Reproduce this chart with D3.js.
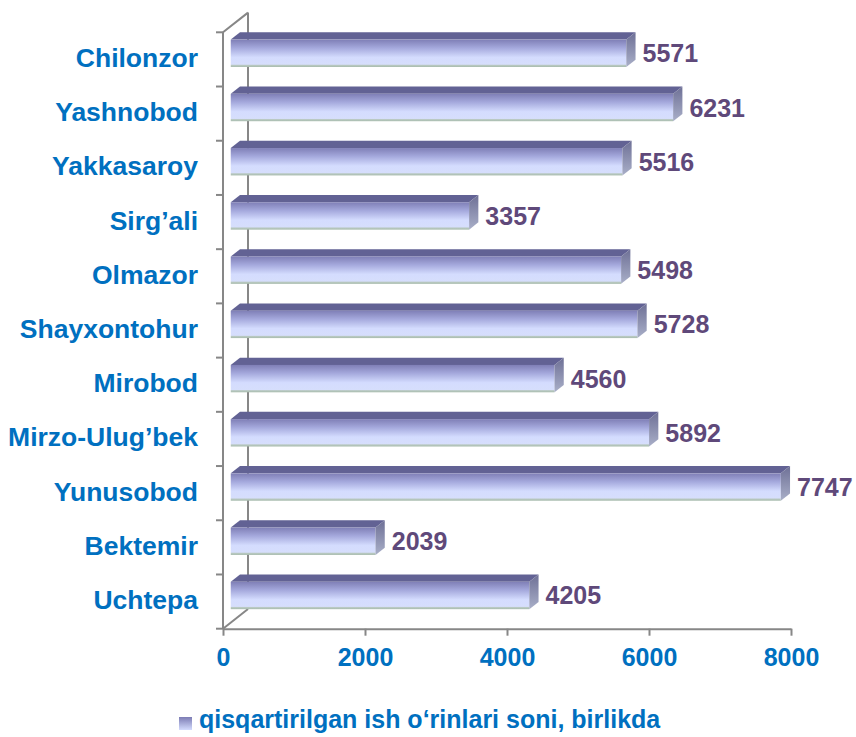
<!DOCTYPE html>
<html>
<head>
<meta charset="utf-8">
<script src="https://cdn.jsdelivr.net/npm/d3@7/dist/d3.min.js"></script>
<style>
  body { margin: 0; background: #fff; }
  svg { font-family: "Liberation Sans", Arial, sans-serif; font-weight: bold; }
</style>
</head>
<body>
<div id="chart"></div>
<script>
var categories = ["Chilonzor", "Yashnobod", "Yakkasaroy", "Sirg\u2019ali", "Olmazor", "Shayxontohur",
                  "Mirobod", "Mirzo-Ulug\u2019bek", "Yunusobod", "Bektemir", "Uchtepa"];
var values = [5571, 6231, 5516, 3357, 5498, 5728, 4560, 5892, 7747, 2039, 4205];
var xTicks = [0, 2000, 4000, 6000, 8000];
var legendLabel = "qisqartirilgan ish o\u2018rinlari soni, birlikda";

var width = 856, height = 737;
var depthX = 25, depthY = -19.7;     // 3d wall depth
var barFront = 0.31, barBack = 0.68; // bar position inside the depth

var svg = d3.select("#chart").append("svg")
  .attr("width", width)
  .attr("height", height);

var defs = svg.append("defs");
var gFront = defs.append("linearGradient").attr("id", "front")
  .attr("x1", 0).attr("y1", 0).attr("x2", 0).attr("y2", 1);
gFront.append("stop").attr("offset", "0%").attr("stop-color", "#7f7fb6");
gFront.append("stop").attr("offset", "30%").attr("stop-color", "#a4a8dc");
gFront.append("stop").attr("offset", "65%").attr("stop-color", "#d4dcfe");
gFront.append("stop").attr("offset", "90%").attr("stop-color", "#d6defc");
gFront.append("stop").attr("offset", "94%").attr("stop-color", "#b8c8c0");
gFront.append("stop").attr("offset", "100%").attr("stop-color", "#a8bcae");

var gSide = defs.append("linearGradient").attr("id", "side")
  .attr("x1", 0).attr("y1", 0).attr("x2", 0).attr("y2", 1);
gSide.append("stop").attr("offset", "0%").attr("stop-color", "#6e7096");
gSide.append("stop").attr("offset", "100%").attr("stop-color", "#a9afc8");

var gLegend = defs.append("linearGradient").attr("id", "legend")
  .attr("x1", 0).attr("y1", 0).attr("x2", 0).attr("y2", 1);
gLegend.append("stop").attr("offset", "0%").attr("stop-color", "#7c7cb4");
gLegend.append("stop").attr("offset", "100%").attr("stop-color", "#d4dcfe");

var x = d3.scaleLinear().domain([0, 8000]).range([223, 791]);
var y = d3.scaleBand().domain(categories).range([32.3, 628.7]);

var axisColor = "#878787";
var x0 = x(0), yTop = y.range()[0], yBot = y.range()[1];

// walls
var walls = svg.append("g").attr("stroke", axisColor).attr("stroke-width", 2).attr("fill", "none");
walls.append("path").attr("d",
  "M" + x0 + "," + yTop + "L" + x0 + "," + yBot +
  "M" + (x0 + depthX) + "," + (yTop + depthY) + "L" + (x0 + depthX) + "," + (yBot + depthY) +
  "M" + x0 + "," + yTop + "L" + (x0 + depthX) + "," + (yTop + depthY) +
  "M" + x0 + "," + yBot + "L" + (x0 + depthX) + "," + (yBot + depthY));

// category ticks on band edges
var edges = categories.map(function(c){ return y(c); }).concat([yBot]);
walls.selectAll("line.ctick").data(edges).enter().append("line")
  .attr("x1", x0 - 7).attr("x2", x0)
  .attr("y1", function(d){ return d; }).attr("y2", function(d){ return d; });

// value axis
var xAxis = svg.append("g")
  .attr("transform", "translate(0," + yBot + ")")
  .call(d3.axisBottom(x).tickValues(xTicks).tickFormat(d3.format("d"))
        .tickSize(7).tickPadding(13).tickSizeOuter(0));
xAxis.select(".domain").attr("stroke", axisColor).attr("stroke-width", 2);
xAxis.selectAll(".tick line").attr("stroke", axisColor).attr("stroke-width", 2);
xAxis.selectAll(".tick text")
  .attr("fill", "#0070c0")
  .style("font-size", "25px")
  .style("font-weight", "bold")
  .style("font-family", "Liberation Sans, Arial, sans-serif");

// category labels
svg.append("g").selectAll("text").data(categories).enter().append("text")
  .attr("x", 198)
  .attr("y", function(d){ return y(d) + y.bandwidth() / 2 + 7.5; })
  .attr("text-anchor", "end")
  .attr("fill", "#0070c0")
  .style("font-size", "26.5px")
  .text(function(d){ return d; });

// bars
var bh = y.bandwidth() * 0.505;
var fdx = depthX * barFront, fdy = depthY * barFront;
var bdx = depthX * barBack, bdy = depthY * barBack;

var bars = svg.append("g").selectAll("g").data(values).enter().append("g");

function barTop(d, i){ return y(categories[i]) + (y.bandwidth() - bh) / 2 + fdy; }

bars.append("path")
  .attr("fill", "#626294")
  .attr("d", function(d, i){
    var t = barTop(d, i), l = x(0) + fdx, r = x(d) + fdx;
    return "M" + l + "," + t + "L" + (l + bdx - fdx) + "," + (t + bdy - fdy) +
           "L" + (r + bdx - fdx) + "," + (t + bdy - fdy) + "L" + r + "," + t + "Z";
  });

bars.append("rect")
  .attr("x", x(0) + fdx)
  .attr("y", function(d, i){ return barTop(d, i); })
  .attr("width", function(d){ return x(d) - x(0); })
  .attr("height", bh)
  .attr("fill", "url(#front)");

bars.append("path")
  .attr("fill", "url(#side)")
  .attr("d", function(d, i){
    var t = barTop(d, i), r = x(d) + fdx, ddx = bdx - fdx, ddy = bdy - fdy;
    return "M" + r + "," + t + "L" + (r + ddx) + "," + (t + ddy) +
           "L" + (r + ddx) + "," + (t + ddy + bh) + "L" + r + "," + (t + bh) + "Z";
  });

// value labels
bars.append("text")
  .attr("x", function(d){ return x(d) + bdx + 7; })
  .attr("y", function(d, i){ return barTop(d, i) + bh / 2 + 9; })
  .attr("fill", "#5f497a")
  .style("font-size", "25px")
  .text(function(d){ return d; });

// legend
svg.append("rect")
  .attr("x", 179).attr("y", 717).attr("width", 13).attr("height", 13)
  .attr("fill", "url(#legend)");
svg.append("text")
  .attr("x", 199).attr("y", 728)
  .attr("fill", "#0070c0")
  .style("font-size", "25px")
  .text(legendLabel);
</script>
</body>
</html>
